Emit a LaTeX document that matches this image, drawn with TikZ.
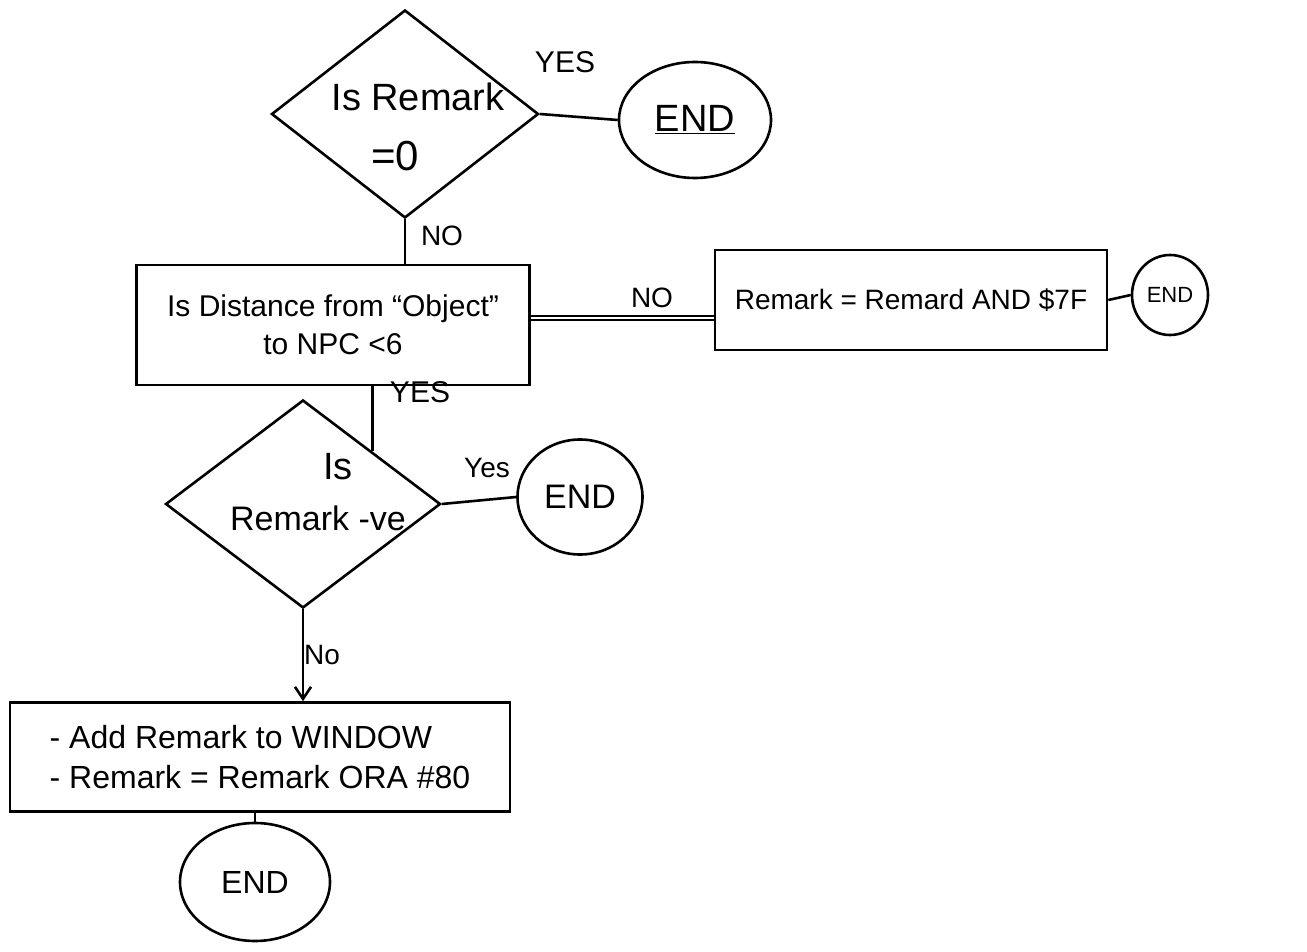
\documentclass[tikz,border=0pt]{standalone}
\usepackage{fontspec}
\setmainfont{Liberation Sans}
\usetikzlibrary{shapes.geometric,arrows.meta,calc}
\begin{document}
\begin{tikzpicture}[x=0.5pt,y=-0.5pt,
  ink/.style={line width=1.3pt,black},
  decision/.style={ink,draw,diamond,inner sep=0pt},
  procbox/.style={ink,draw,rectangle,inner sep=0pt,align=center},
  endoval/.style={ink,draw,ellipse,inner sep=0pt},
  lbl/.style={inner sep=0pt,font=\fontsize{14}{16}\selectfont},
  conn/.style={ink},
  dblconn/.style={ink,double,double distance=1.2pt,line width=0.9pt}
]
\useasboundingbox (0,0) rectangle (1307,952);
% nodes
\node[decision,minimum width=133.5pt,minimum height=104pt] (d1) at (405,114) {};
\node[inner sep=0pt,font=\fontsize{19}{21}\selectfont] (d1a) at (418,97) {Is Remark};
\node[inner sep=0pt,font=\fontsize{21}{23}\selectfont] (d1b) at (395,156) {=0};
\node[endoval,minimum width=76pt,minimum height=58pt,font=\fontsize{19}{21}\selectfont] (e1) at (695,120) {\underline{END}};

\node[procbox,minimum width=196.5pt,minimum height=60pt,font=\fontsize{15}{19}\selectfont] (b2) at (333,325) {Is Distance from ``Object''\\to NPC {<}6};
\node[procbox,minimum width=196pt,minimum height=50pt,font=\fontsize{14}{16}\selectfont] (b3) at (911,300) {Remark = Remard AND \$7F};
\node[endoval,minimum width=38pt,minimum height=40pt,font=\fontsize{11}{13}\selectfont] (e3) at (1170,295) {END};

\node[decision,minimum width=137.5pt,minimum height=104pt] (d2) at (303,504) {};
\node[inner sep=0pt,font=\fontsize{19}{21}\selectfont] (d2a) at (338,467) {Is};
\node[inner sep=0pt,font=\fontsize{17}{19}\selectfont] (d2b) at (318,518) {Remark -ve};
\node[endoval,minimum width=62.5pt,minimum height=57.5pt,font=\fontsize{17}{19}\selectfont] (e2) at (580,497) {END};

\node[procbox,minimum width=250pt,minimum height=54.5pt,font=\fontsize{16}{20}\selectfont,align=left] (b4) at (260,757) {- Add Remark to WINDOW\\- Remark = Remark ORA \#80};
\node[endoval,minimum width=75pt,minimum height=59pt,font=\fontsize{16}{18}\selectfont] (e4) at (255,882) {END};

% labels
\node[lbl,font=\fontsize{15}{17}\selectfont] (l1) at (565,62) {YES};
\node[lbl] (l2) at (442,236) {NO};
\node[lbl] (l3) at (652,298) {NO};
\node[lbl,font=\fontsize{15}{17}\selectfont] (l4) at (420,392) {YES};
\node[lbl] (l5) at (487,468) {Yes};
\node[lbl] (l6) at (322,655) {No};

% connectors
\draw[conn] (d1.east) -- (e1.west);
\draw[conn] (d1.south) -- (d1.south |- b2.north);
\coordinate (b2r) at ($(b2.east)+(0,-7)$);
\draw[dblconn] (b2r) -- (b2r -| b3.west);
\draw[conn] (b3.east) -- (e3.west);
\draw[conn] (b2.south -| d2.north east) -- (d2.north east);
\draw[conn] (d2.east) -- (e2.west);
\draw[conn,-{Straight Barb[length=6pt,width=8pt]}] (d2.south) -- (d2.south |- b4.north);
\draw[conn] (b4.south -| e4.north) -- (e4.north);
\end{tikzpicture}
\end{document}
